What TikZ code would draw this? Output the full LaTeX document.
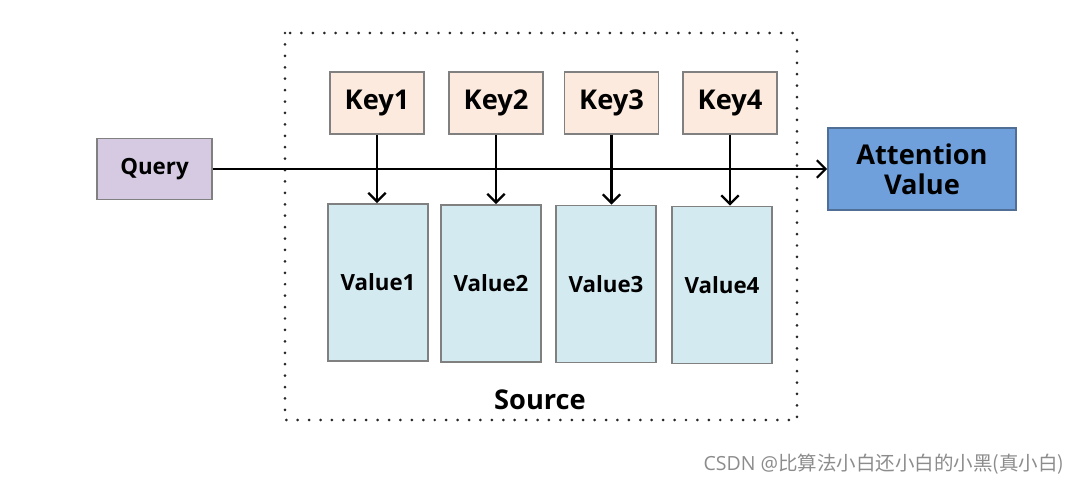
\documentclass[tikz,border=0pt]{standalone}
\usepackage{fontspec}
\setmainfont{Open Sans}
\newfontfamily\cjkfont{Noto Sans CJK SC}
\usetikzlibrary{arrows.meta}
\definecolor{queryfill}{RGB}{214,202,226}
\definecolor{keyfill}{RGB}{252,234,222}
\definecolor{valuefill}{RGB}{212,234,241}
\definecolor{attfill}{RGB}{111,160,220}
\definecolor{attdraw}{RGB}{80,110,150}
\definecolor{boxdraw}{RGB}{128,128,128}
\tikzset{
	box/.style={draw=boxdraw, line width=0.9pt, inner sep=0pt, font=\bfseries},
	keybox/.style={box, fill=keyfill, minimum width=1.88cm, minimum height=1.24cm, font=\bfseries\fontsize{15.5}{18}\selectfont},
	valbox/.style={box, fill=valuefill, minimum width=2cm, minimum height=3.14cm, font=\bfseries\fontsize{12.7}{15}\selectfont},
	link/.style={line width=1.4pt, -{Straight Barb[length=5pt, width=10pt, line width=1.3pt]}}
}
\begin{document}
\begin{tikzpicture}[x=0.02cm, y=-0.02cm]
	\useasboundingbox (0,0) rectangle (1080,483);
	\draw[line width=1.7pt, line cap=round, dash pattern=on 0pt off 6.5pt, black!85] (285,33) rectangle (797,420);
	\node[box, fill=queryfill, minimum width=2.3cm, minimum height=1.22cm, font=\bfseries\fontsize{12.7}{15}\selectfont] (query) at (154.5,169) {Query};
	\node[keybox] (key1) at (377,103) {Key1};
	\node[keybox] (key2) at (496,103) {Key2};
	\node[keybox] (key3) at (611.5,103) {Key3};
	\node[keybox] (key4) at (730,103) {Key4};
	\node[valbox] (val1) at (378,282.5) {Value1};
	\node[valbox] (val2) at (491,283.5) {Value2};
	\node[valbox] (val3) at (606,284) {Value3};
	\node[valbox] (val4) at (722,285) {Value4};
	\node[box, draw=attdraw, fill=attfill, minimum width=3.76cm, minimum height=1.64cm, align=center, font=\bfseries\fontsize{15.5}{17}\selectfont] (att) at (922,169) {Attention\\Value};
	\node[font=\bfseries\fontsize{15.5}{18}\selectfont] (source) at (540,400) {Source};
	\node[text=black!45, font=\fontsize{11.1}{13}\selectfont] (mark) at (884,464) {CSDN @\cjkfont 比算法小白还小白的小黑(真小白)};
	% query to attention value
	\draw[link] (query.east) -- (att.west);
	% keys to values
	\draw[link] (key1.south) -- (key1.south |- val1.north);
	\draw[link] (key2.south) -- (key2.south |- val2.north);
	\draw[link] (key3.south) -- (key3.south |- val3.north);
	\draw[link] (key4.south) -- (key4.south |- val4.north);
\end{tikzpicture}
\end{document}
